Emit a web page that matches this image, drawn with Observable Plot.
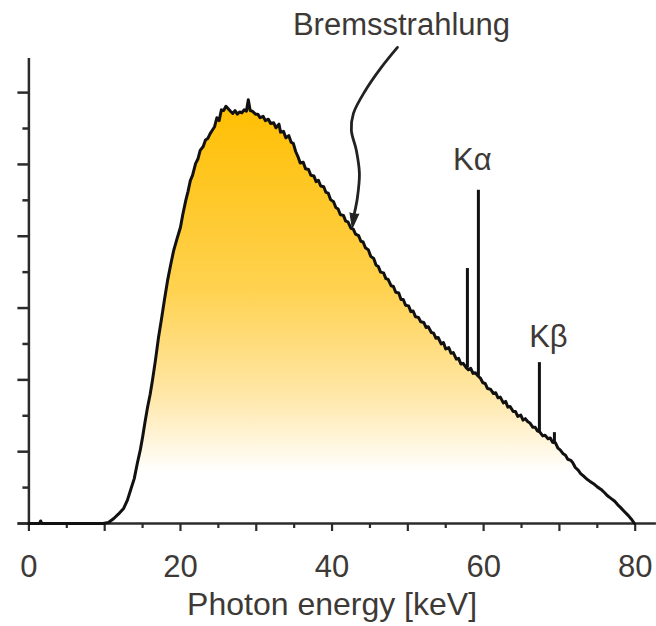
<!DOCTYPE html>
<html>
<head>
<meta charset="utf-8">
<script src="https://cdn.jsdelivr.net/npm/d3@7"></script>
<script src="https://cdn.jsdelivr.net/npm/@observablehq/plot@0.6"></script>
<style>
  html, body { margin: 0; padding: 0; background: #fff; }
  #chart svg { display: block; }
</style>
</head>
<body>
<div id="chart"></div>
<script>
// X-ray tube spectrum: bremsstrahlung continuum plus characteristic lines

// Continuum (photon energy in keV, relative intensity)
const continuumKeV = [
  0, 1.4, 1.55, 1.7, 9.8, 10.5, 11.2, 11.8, 12.5, 13.0, 13.4, 13.9, 14.3, 14.7, 15.0, 15.3,
  15.65, 16.0, 16.3, 16.7, 17.1, 17.5, 17.9, 18.3, 18.7, 19.1, 19.5, 20.0, 20.3, 20.7, 21.0,
  21.3, 21.6, 22.0, 22.3, 22.6, 23.0, 23.3, 23.6, 23.9, 24.2, 24.5, 24.8, 25.1, 25.4, 25.7,
  26.0, 26.3, 26.6, 26.9, 27.2, 27.5, 27.8, 28.1, 28.4, 28.7, 28.95, 29.2, 29.5, 29.9, 30.2,
  30.5, 30.9, 31.2, 31.6, 31.9, 32.3, 32.6, 33.0, 33.2, 33.6, 33.9, 34.3, 34.6, 34.9, 35.2,
  35.5, 35.8, 36.2, 36.5, 36.9, 37.2, 37.6, 37.9, 38.2, 38.5, 38.9, 39.2, 39.5, 39.8, 40.2,
  40.5, 40.8, 41.1, 41.5, 41.8, 42.1, 42.5, 42.8, 43.1, 43.5, 43.8, 44.1, 44.4, 44.8, 45.1,
  45.5, 45.8, 46.1, 46.4, 46.8, 47.1, 47.4, 47.8, 48.1, 48.4, 48.8, 49.1, 49.4, 49.7, 50.1,
  50.4, 50.7, 51.0, 51.4, 51.7, 52.1, 52.4, 52.7, 53.1, 53.4, 53.7, 54.0, 54.4, 54.7, 55.0,
  55.4, 55.7, 56.0, 56.4, 56.7, 57.0, 57.3, 57.7, 58.0, 58.3, 58.6, 58.9, 59.3, 59.6, 59.9,
  60.2, 60.5, 60.9, 61.3, 61.6, 61.9, 62.2, 62.6, 62.9, 63.2, 63.5, 63.9, 64.2, 64.5, 64.9,
  65.2, 65.5, 65.8, 66.1, 66.5, 66.8, 67.1, 67.4, 67.8, 68.1, 68.5, 68.8, 69.1, 69.5, 69.8,
  70.1, 70.5, 70.8, 71.1, 71.5, 71.8, 72.1, 72.5, 72.8, 73.2, 73.6, 74.0, 74.5, 75.0, 75.5,
  76.0, 76.3, 76.8, 77.3, 77.7, 78.05, 78.5, 79.1, 79.5, 79.9
];
const continuumCounts = [
  0, 0, 0.07, 0, 0, 0.03, 0.14, 0.26, 0.42, 0.65, 0.92, 1.25, 1.67, 2.05, 2.40, 2.80,
  3.23, 3.60, 3.98, 4.55, 5.18, 5.70, 6.25, 6.77, 7.20, 7.60, 7.90, 8.25, 8.60, 9.00, 9.25,
  9.55, 9.70, 10.03, 10.15, 10.39, 10.50, 10.68, 10.72, 10.85, 10.95, 11.05, 11.30, 11.22, 11.52, 11.50,
  11.62, 11.55, 11.48, 11.42, 11.50, 11.40, 11.46, 11.44, 11.52, 11.48, 11.80, 11.50, 11.48, 11.40, 11.40,
  11.30, 11.34, 11.22, 11.26, 11.14, 11.16, 11.02, 11.12, 10.90, 10.92, 10.74, 10.80, 10.62, 10.58, 10.36,
  10.22, 10.04, 10.06, 9.88, 9.86, 9.70, 9.68, 9.52, 9.56, 9.40, 9.38, 9.22, 9.20, 9.02, 8.96,
  8.80, 8.76, 8.60, 8.58, 8.42, 8.40, 8.22, 8.20, 8.06, 8.02, 7.86, 7.84, 7.68, 7.62, 7.44,
  7.38, 7.20, 7.16, 7.00, 6.98, 6.82, 6.80, 6.62, 6.60, 6.44, 6.42, 6.24, 6.24, 6.08, 6.06,
  5.90, 5.92, 5.76, 5.74, 5.62, 5.60, 5.46, 5.48, 5.32, 5.30, 5.16, 5.18, 5.00, 5.04, 4.86,
  4.90, 4.74, 4.76, 4.58, 4.60, 4.44, 4.46, 4.34, 4.28, 4.32, 4.18, 4.20, 4.10, 4.04, 3.92,
  3.90, 3.76, 3.74, 3.62, 3.64, 3.50, 3.52, 3.36, 3.40, 3.24, 3.26, 3.12, 3.12, 2.98, 3.02,
  2.88, 2.92, 2.84, 2.80, 2.68, 2.68, 2.58, 2.55, 2.44, 2.46, 2.36, 2.38, 2.26, 2.24, 2.10,
  2.05, 1.94, 1.90, 1.79, 1.76, 1.68, 1.56, 1.48, 1.39, 1.32, 1.24, 1.18, 1.11, 1.02, 0.95,
  0.85, 0.78, 0.70, 0.62, 0.52, 0.45, 0.35, 0.22, 0.12, 0
];

// Characteristic lines (Kα2, Kα1, Kβ1, Kβ2): energy, base on continuum, peak top
const lineKeV = [57.86, 59.31, 67.36, 69.34];
const lineBase = [4.33, 4.10, 2.56, 2.25];
const lineTop = [7.10, 9.28, 4.48, 2.53];

// Axis ticks
const xLabelTicks = [0, 20, 40, 60, 80];
const xMajorTicks = [0, 10, 20, 30, 40, 50, 60, 70, 80];
const xMinorTicks = [5, 15, 25, 35, 45, 55, 65, 75];
const yMajorTicks = [0, 2, 4, 6, 8, 10, 12];
const yMinorTicks = [1, 3, 5, 7, 9, 11];

// Annotations
const xTitle = "Photon energy [keV]";
const labelText = ["Bremsstrahlung", "Kα", "Kβ"];
const labelKeV = [49.16, 58.52, 68.55];
const labelY = [14.21, 10.45, 5.52];
// Pointer from the "Bremsstrahlung" label down to the continuum
const pointerKeV = [48.63, 46.38, 44.4, 42.82, 42.55, 43.21, 43.61, 43.35, 42.95];
const pointerY = [13.26, 12.67, 12.06, 11.42, 10.95, 10.39, 9.75, 9.08, 8.64];

const continuum = continuumKeV.map((e, i) => ({keV: e, counts: continuumCounts[i]}));
const lines = lineKeV.map((e, i) => ({keV: e, base: lineBase[i], top: lineTop[i]}));
const labels = labelText.map((t, i) => ({text: t, keV: labelKeV[i], y: labelY[i]}));
const pointer = pointerKeV.map((e, i) => ({keV: e, y: pointerY[i]}));
const pointerTip = pointer.slice(-1);

const ink = "#111";
const axisInk = "#2b2b2b";
const textInk = "#3d3936";
const font = "'Liberation Sans', Arial, Helvetica, sans-serif";

const chart = Plot.plot({
  width: 656,
  height: 626,
  marginLeft: 28.4,
  marginRight: 21.3,
  marginTop: 58,
  marginBottom: 103,
  style: {fontFamily: font, fontSize: "31px", color: textInk, background: "#fff", overflow: "visible"},
  x: {domain: [0, 80]},
  y: {domain: [0, 12.95]},
  marks: [
    // graded fill beneath the continuum
    Plot.areaY(continuum, {x: "keV", y: "counts", fill: "url(#spectrum-fill)", curve: "linear"}),
    // axis lines
    Plot.ruleY([0], {x1: -1.42, x2: 82.8, stroke: axisInk, strokeWidth: 2.5}),
    Plot.ruleX([0], {y1: 0, y2: 12.95, stroke: axisInk, strokeWidth: 2.5}),
    // x ticks
    Plot.axisX({ticks: xMajorTicks, tickSize: 8, tickFormat: () => "", label: null, stroke: axisInk, strokeWidth: 2.2}),
    Plot.axisX({ticks: xMinorTicks, tickSize: 5, tickFormat: () => "", label: null, stroke: axisInk, strokeWidth: 2.2}),
    Plot.axisX({ticks: xLabelTicks, tickSize: 0, tickPadding: 31, label: null, fontSize: 31, fill: textInk}),
    // y ticks (unlabelled)
    Plot.axisY({ticks: yMajorTicks, tickSize: 11, tickFormat: () => "", label: null, stroke: axisInk, strokeWidth: 2.5}),
    Plot.axisY({ticks: yMinorTicks, tickSize: 6, tickFormat: () => "", label: null, stroke: axisInk, strokeWidth: 2.5}),
    // x axis title
    Plot.text([xTitle], {frameAnchor: "bottom", dy: 69, lineAnchor: "top", fontSize: 32, fill: textInk}),
    // spectrum outline and characteristic lines
    Plot.line(continuum, {x: "keV", y: "counts", stroke: ink, strokeWidth: 3, strokeLinejoin: "round"}),
    Plot.ruleX(lines, {x: "keV", y1: "base", y2: "top", stroke: ink, strokeWidth: 3}),
    // annotations
    Plot.text(labels, {x: "keV", y: "y", text: "text", lineAnchor: "top", fontSize: 31, fill: textInk}),
    Plot.line(pointer, {x: "keV", y: "y", curve: "catmull-rom", stroke: "#222", strokeWidth: 2.8}),
    Plot.vector(pointerTip, {x: "keV", y: "y", length: 15, rotate: 188, anchor: "start", shape: "spike", r: 4.5, fill: "#222", stroke: "#222", strokeWidth: 1})
  ]
});

// vertical gradient for the area fill
const ns = "http://www.w3.org/2000/svg";
const defs = document.createElementNS(ns, "defs");
const grad = document.createElementNS(ns, "linearGradient");
grad.setAttribute("id", "spectrum-fill");
grad.setAttribute("x1", "0"); grad.setAttribute("y1", "0");
grad.setAttribute("x2", "0"); grad.setAttribute("y2", "1");
[["0", "#FFBE00"], ["0.45", "#FFD250"], ["0.7", "#FFE7A8"], ["0.88", "#FFFFFF"]].forEach(([o, c]) => {
  const s = document.createElementNS(ns, "stop");
  s.setAttribute("offset", o);
  s.setAttribute("stop-color", c);
  grad.appendChild(s);
});
defs.appendChild(grad);
chart.insertBefore(defs, chart.firstChild);

document.getElementById("chart").appendChild(chart);
</script>
</body>
</html>
